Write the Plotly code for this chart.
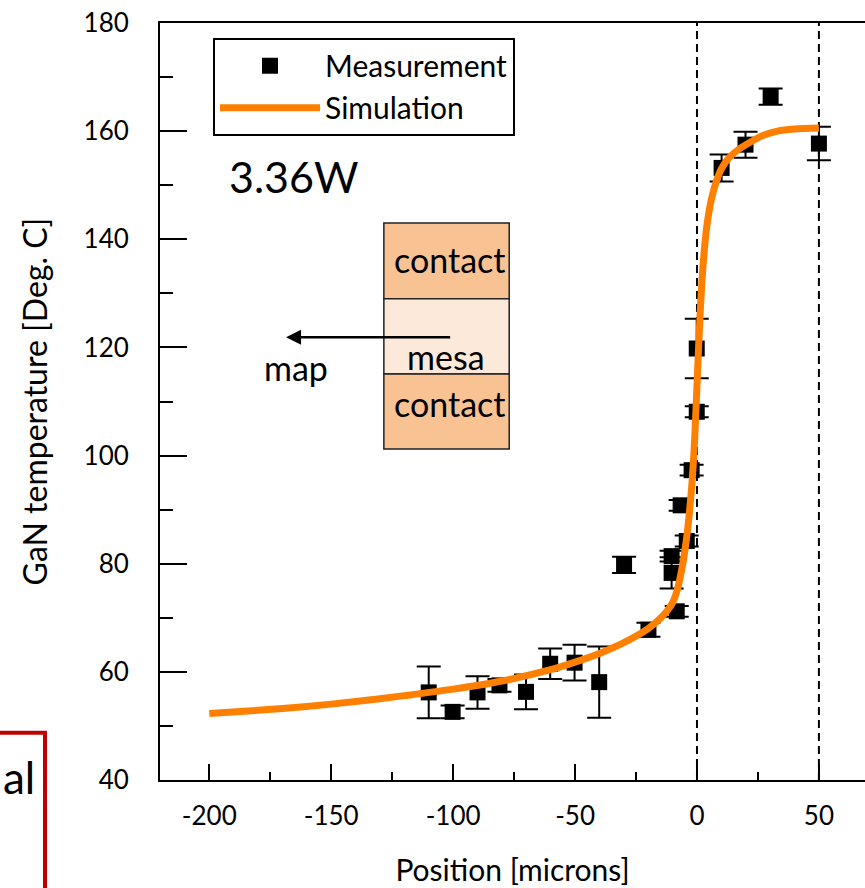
import plotly.graph_objects as go

# ---- data ----
meas_x = [-110, -100.2, -90, -81, -70.1, -60.2, -50.2, -40.1, -29.9, -19.9,
          -10.4, -10.4, -8.3, -6.7, -4.2, -2.2, -0.1, -0.1, 10.1, 19.9, 30.2, 50]
meas_y = [56.2, 52.6, 56.2, 57.5, 56.3, 61.5, 61.7, 58.1, 79.8, 67.8,
          81.4, 78.3, 71.2, 90.8, 84.2, 97.3, 108.1, 119.8, 153.2, 157.5, 166.4, 157.7]
meas_err = [4.8, 1.2, 3.0, 1.2, 3.2, 2.8, 3.3, 6.6, 1.5, 1.3,
            1.0, 2.9, 1.0, 1.0, 1.0, 1.0, 1.0, 5.5, 2.5, 2.4, 1.5, 3.1]

sim_x = [-200, -180, -160, -140, -120, -100, -80, -60, -50, -40, -30, -20, -15, -12, -10,
         -8, -6, -5, -4, -3, -2, -1, 0, 1, 2, 3, 4, 5, 6, 8, 10, 13, 17, 22, 27, 33, 40, 50]
sim_y = [52.3, 52.9, 53.6, 54.5, 55.6, 56.8, 58.3, 60.4, 61.8, 63.4, 65.4, 68.0, 69.9, 71.4, 72.8,
         75.3, 79.5, 82.3, 85.7, 90.0, 95.2, 102.5, 113.0, 123.5, 132.0, 138.0, 142.3, 145.3,
         147.6, 150.8, 153.0, 155.0, 156.6, 158.0, 159.2, 160.0, 160.4, 160.6]

x_ticks = [-200, -150, -100, -50, 0, 50]
x_tick_labels = ["-200", "-150", "-100", "-50", "0", "50"]
y_ticks = [40, 60, 80, 100, 120, 140, 160, 180]
y_tick_labels = ["40", "60", "80", "100", "120", "140", "160", "180"]

FONT = "Lato"
W, H = 865, 888
ML, MT, MB = 160, 23.3, 107.7
PW = W - ML
PH = H - MT - MB


def px2paper_x(px):
    return (px - ML) / PW


def px2paper_y(py):
    return (H - MB - py) / PH


fig = go.Figure()

fig.add_trace(go.Scatter(
    x=meas_x, y=meas_y, mode="markers", name="Measurement",
    marker=dict(symbol="square", size=16, color="black"),
    error_y=dict(type="data", array=meas_err, visible=True, color="black",
                 thickness=2, width=12),
))

fig.add_trace(go.Scatter(
    x=sim_x, y=sim_y, mode="lines", name="Simulation",
    line=dict(color="#FF8000", width=7, shape="spline", smoothing=0.8),
))

# dashed vertical lines at contact edges
for xv in [0, 50]:
    fig.add_shape(type="line", x0=xv, x1=xv, y0=0, y1=1, xref="x", yref="paper",
                  line=dict(color="black", width=2, dash="8px,5px"), layer="below")

# schematic boxes
box_x0, box_x1 = -128.4, -77.0
fig.add_shape(type="rect", x0=box_x0, x1=box_x1, y0=129.0, y1=143.0, xref="x", yref="y",
              fillcolor="#F8C293", line=dict(color="#222222", width=1.5))
fig.add_shape(type="rect", x0=box_x0, x1=box_x1, y0=115.1, y1=129.0, xref="x", yref="y",
              fillcolor="#FDE9DA", line=dict(color="#222222", width=1.5))
fig.add_shape(type="rect", x0=box_x0, x1=box_x1, y0=101.2, y1=115.1, xref="x", yref="y",
              fillcolor="#F8C293", line=dict(color="#222222", width=1.5))

annos = [
    dict(x=-101.6, y=136.3, text="contact", size=34),
    dict(x=-101.6, y=109.6, text="contact", size=34),
    dict(x=-103.0, y=118.3, text="mesa", size=34),
    dict(x=-164.5, y=116.3, text="map", size=34),
]
for a in annos:
    fig.add_annotation(x=a["x"], y=a["y"], xref="x", yref="y", text=a["text"],
                       showarrow=False, font=dict(family=FONT, size=a["size"], color="black"))

fig.add_annotation(x=-192.7, y=151.6, xref="x", yref="y", text="3.36W", xanchor="left",
                   showarrow=False, font=dict(family=FONT, size=43, color="black"))

# arrow
fig.add_annotation(x=-168.5, y=121.9, ax=-100.6, ay=121.9, xref="x", yref="y",
                   axref="x", ayref="y", text="", showarrow=True, arrowhead=2,
                   arrowsize=1.2, arrowwidth=2.5, arrowcolor="black")

# red box at bottom-left (cut off)
fig.add_shape(type="rect", xref="paper", yref="paper",
              x0=px2paper_x(-20), x1=px2paper_x(45), y0=px2paper_y(920), y1=px2paper_y(733),
              line=dict(color="#C00000", width=4), fillcolor="rgba(0,0,0,0)")
fig.add_annotation(x=px2paper_x(1), y=px2paper_y(777), xref="paper", yref="paper",
                   text="al", xanchor="left", yanchor="middle", showarrow=False,
                   font=dict(family=FONT, size=44, color="black"))

axis_common = dict(
    showline=True, linecolor="black", linewidth=2, showgrid=False, zeroline=False,
    ticks="inside", tickcolor="black", tickwidth=2,
    tickfont=dict(family=FONT, size=26, color="black"),
)

fig.update_xaxes(
    **axis_common, range=[-220.2, 68.9], tickvals=x_ticks, ticktext=x_tick_labels,
    ticklen=16, mirror=True,
    minor=dict(dtick=25, tick0=0, ticks="inside", ticklen=8, tickwidth=2, tickcolor="black"),
    title=dict(text="Position [microns]", font=dict(family=FONT, size=30, color="black"),
               standoff=30),
    ticklabelstandoff=12,
)
fig.update_yaxes(
    **axis_common, range=[40, 180], tickvals=y_ticks, ticktext=y_tick_labels, ticklen=27,
    minor=dict(dtick=10, tick0=0, ticks="inside", ticklen=13, tickwidth=2, tickcolor="black"),
    title=dict(text="GaN temperature [Deg. C]", font=dict(family=FONT, size=32, color="black"),
               standoff=26),
    ticklabelstandoff=24,
)

fig.update_layout(
    width=W, height=H,
    margin=dict(l=ML, r=0, t=MT, b=MB, pad=0),
    paper_bgcolor="white", plot_bgcolor="white",
    font=dict(family=FONT, color="black"),
    legend=dict(x=px2paper_x(213), y=px2paper_y(38), xanchor="left", yanchor="top",
                bordercolor="black", borderwidth=2, bgcolor="white",
                font=dict(family=FONT, size=30, color="black"), itemwidth=100,
                tracegroupgap=0),
    showlegend=True,
)

fig.write_html("out.html")
